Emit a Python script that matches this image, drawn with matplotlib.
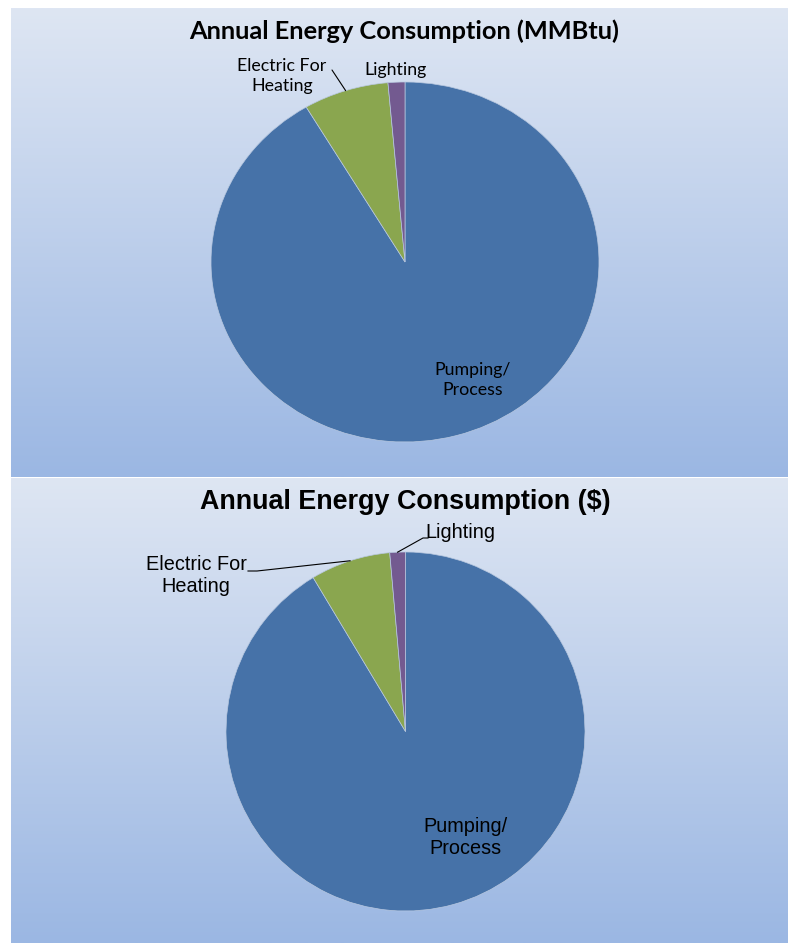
import numpy as np
import matplotlib
matplotlib.use('Agg')
import matplotlib.pyplot as plt
from matplotlib.patches import ConnectionPatch
from matplotlib.lines import Line2D

W, H = 788, 943

categories = ["Pumping/\nProcess", "Electric For\nHeating", "Lighting"]
mmbtu_values = [91.5, 7.1, 1.4]
dollar_values = [91.4, 7.2, 1.4]
titles = ["Annual Energy Consumption (MMBtu)", "Annual Energy Consumption ($)"]
colors = ["#4672A8", "#8AA64F", "#735A90"]


def fx(x):
    return x / W


def fy(y):
    return 1 - y / H


def panel(fig, x0, y0, x1, y1):
    ax = fig.add_axes([fx(x0), fy(y1), fx(x1) - fx(x0), fy(y0) - fy(y1)])
    top = np.array([222, 230, 243]) / 255.0
    bot = np.array([155, 183, 227]) / 255.0
    t = np.linspace(0, 1, 256)[:, None]
    grad = (top[None, :] * (1 - t) + bot[None, :] * t)[:, None, :]
    ax.imshow(grad, aspect='auto', extent=[0, 1, 0, 1], interpolation='bilinear')
    ax.set_axis_off()
    return ax


def pie_axes(fig, cx, cy, rx, ry, values):
    ax = fig.add_axes([fx(cx - rx), fy(cy + ry), 2 * rx / W, 2 * ry / H])
    wedges, _ = ax.pie(values, colors=colors, startangle=90, counterclock=False,
                       wedgeprops=dict(edgecolor='#b8c8e0', linewidth=0.5))
    ax.set_aspect('auto')
    ax.set_xlim(-1, 1)
    ax.set_ylim(-1, 1)
    ax.set_axis_off()
    return ax, wedges


def edge_point(w):
    a = np.deg2rad((w.theta1 + w.theta2) / 2)
    return np.cos(a), np.sin(a)


fig = plt.figure(figsize=(W / 100, H / 100), dpi=100)
fig.patch.set_facecolor('white')

panel(fig, 11, 8, 788, 477)
panel(fig, 11, 478, 788, 943)

# top chart (Calibri-like)
ax1, w1 = pie_axes(fig, 405, 262, 194, 180, mmbtu_values)
fig.text(fx(404), fy(31), titles[0], ha='center', va='center',
         fontsize=18.3, fontweight='bold', family='Lato')
fig.text(fx(473), fy(380), categories[0], ha='center', va='center',
         fontsize=12.8, family='Lato', linespacing=1.3)
fig.text(fx(282), fy(76), categories[1], ha='center', va='center',
         fontsize=12.8, family='Lato', linespacing=1.3)
fig.text(fx(395), fy(70), categories[2], ha='center', va='center',
         fontsize=12.8, family='Lato')
con = ConnectionPatch(xyA=(fx(332), fy(70)), coordsA='figure fraction',
                      xyB=edge_point(w1[1]), coordsB=ax1.transData,
                      color='black', lw=0.8)
fig.add_artist(con)

# bottom chart (Arial-like)
ax2, w2 = pie_axes(fig, 405.5, 731.5, 179.5, 179.5, dollar_values)
fig.text(fx(405), fy(502), titles[1], ha='center', va='center',
         fontsize=19.4, fontweight='bold', family='Liberation Sans')
fig.text(fx(465), fy(838), categories[0], ha='center', va='center',
         fontsize=14.3, family='Liberation Sans', linespacing=1.2)
fig.text(fx(196), fy(575), categories[1], ha='center', va='center',
         fontsize=14.3, family='Liberation Sans', linespacing=1.2)
fig.text(fx(425), fy(532), categories[2], ha='left', va='center',
         fontsize=14.3, family='Liberation Sans')

ex, ey = ax2.transData.transform(edge_point(w2[1]))
lx, ly = ax2.transData.transform(edge_point(w2[2]))
inv = fig.transFigure.inverted()
pts_e = [(fx(248), fy(571)), (fx(257), fy(571)), tuple(inv.transform((ex, ey)))]
pts_l = [(fx(428), fy(538)), (fx(423), fy(538)), tuple(inv.transform((lx, ly)))]
for pts in (pts_e, pts_l):
    xs, ys = zip(*pts)
    fig.add_artist(Line2D(xs, ys, transform=fig.transFigure, color='black', lw=0.8))

plt.savefig("out.png", dpi=100)
plt.close()
